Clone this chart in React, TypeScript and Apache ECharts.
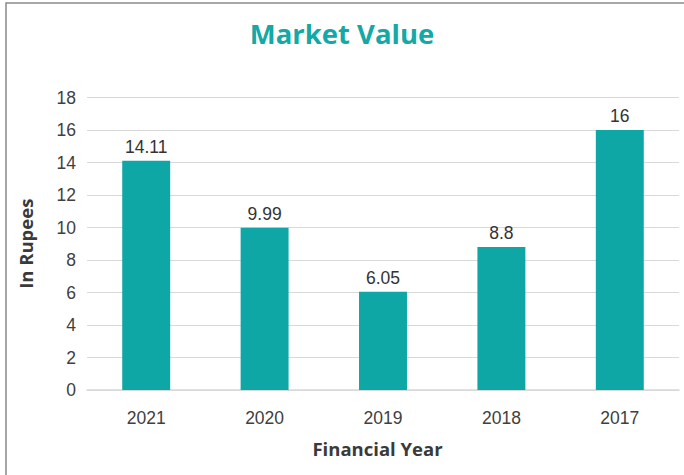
import React, { useEffect, useRef } from "react";
import * as echarts from "echarts";

const categories = ["2021", "2020", "2019", "2018", "2017"];
const values = [14.11, 9.99, 6.05, 8.8, 16];
const labels = ["14.11", "9.99", "6.05", "8.8", "16"];
const titleText = "Market Value";
const xName = "Financial Year";
const yName = "In Rupees";

export default function App() {
  const ref = useRef<HTMLDivElement>(null);
  useEffect(() => {
    const chart = echarts.init(ref.current!, null, { renderer: "svg" });
    chart.setOption({
      animation: false,
      backgroundColor: "#ffffff",
      title: {
        text: titleText,
        left: "center",
        top: 14,
        textStyle: {
          fontFamily: "Open Sans",
          fontWeight: "bold",
          fontSize: 27.5,
          color: "#14A8A6",
        },
      },
      graphic: [
        {
          type: "rect",
          shape: { x: 6, y: 3, width: 720, height: 520 },
          style: { fill: "none", stroke: "#8a8a8a", lineWidth: 1.5 },
          silent: true,
        },
      ],
      grid: { left: 87, right: 5, top: 97.5, bottom: 85 },
      xAxis: {
        type: "category",
        data: categories,
        name: xName,
        nameLocation: "middle",
        nameGap: 49,
        nameTextStyle: {
          fontFamily: "Open Sans",
          fontWeight: "bold",
          fontSize: 18.5,
          color: "#3a3a3a",
          padding: [0, 11, 0, 0],
        },
        axisLine: { lineStyle: { color: "#d9d9d9", width: 1.5 } },
        axisTick: { show: false },
        axisLabel: {
          margin: 19,
          fontFamily: "Liberation Sans",
          fontSize: 17.5,
          color: "#404040",
        },
      },
      yAxis: {
        type: "value",
        min: 0,
        max: 18,
        interval: 2,
        name: yName,
        nameLocation: "middle",
        nameGap: 52,
        nameTextStyle: {
          fontFamily: "Open Sans",
          fontWeight: "bold",
          fontSize: 18.5,
          color: "#3a3a3a",
        },
        axisLine: { show: false },
        axisTick: { show: false },
        splitLine: { lineStyle: { color: "#d9d9d9", width: 1 } },
        axisLabel: {
          margin: 11,
          fontFamily: "Liberation Sans",
          fontSize: 17.5,
          color: "#404040",
        },
      },
      series: [
        {
          type: "bar",
          data: values,
          barWidth: "40.5%",
          itemStyle: { color: "#0FA6A6" },
          label: {
            show: true,
            position: "top",
            distance: 5,
            fontFamily: "Liberation Sans",
            fontSize: 17.5,
            color: "#333333",
            formatter: (p: any) => labels[p.dataIndex],
          },
        },
      ],
    });
    return () => chart.dispose();
  }, []);
  return (
    <div
      ref={ref}
      style={{ position: "absolute", left: 0, top: 0, width: 684, height: 475 }}
    />
  );
}
